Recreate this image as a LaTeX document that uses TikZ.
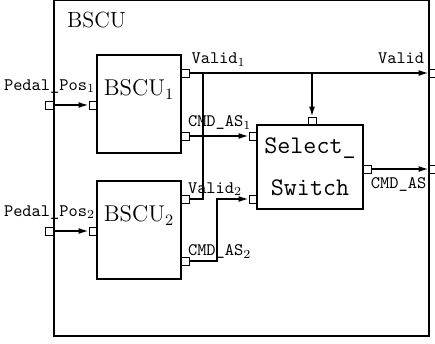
\documentclass[tikz,border=0pt]{standalone}
\usepackage{tikz}
\usetikzlibrary{arrows.meta,positioning}

\begin{document}
\begin{tikzpicture}[>={Latex[length=2mm,width=1.2mm]},
	block/.style={draw, line width=1.4pt, minimum width=1.68cm, minimum height=1.96cm, inner sep=0pt},
	blklbl/.style={font=\fontsize{13}{15}\selectfont, inner sep=1pt},
	port/.style={draw, line width=0.5pt, minimum size=0.16cm, inner sep=0pt},
	sig/.style={font=\fontsize{10}{12}\selectfont\ttfamily, inner sep=1pt},
	wire/.style={line width=0.9pt}]
	\useasboundingbox (0,0) rectangle (8.70,6.86);
	% enclosing component
	\node[draw, line width=1.1pt, minimum width=7.5cm, minimum height=6.72cm, inner sep=0pt] (bscu) at (4.83,3.50) {};
	\node[font=\fontsize{12.5}{15}\selectfont, inner sep=1pt, below right=0.22cm and 0.24cm of bscu.north west] {BSCU};
	% sub-blocks
	\node[block] (bscu1) at (2.78,4.78) {};
	\node[blklbl, below=0.48cm of bscu1.north] {BSCU$_1$};
	\node[block] (bscu2) at (2.78,2.26) {};
	\node[blklbl, below=0.48cm of bscu2.north] {BSCU$_2$};
	\node[block, minimum width=2.12cm, minimum height=1.68cm, align=center, font=\fontsize{14.4}{24}\selectfont\ttfamily] (sel) at (6.20,3.52) {Select\_\\Switch};
	% ports
	\node[port] (pos1) at (0.99,4.76) {};
	\node[port] (pos2) at (0.99,2.24) {};
	\node[port] (b1in) at (1.86,4.76) {};
	\node[port] (b1v) at (3.70,5.40) {};
	\node[port] (b1c) at (3.70,4.14) {};
	\node[port] (b2in) at (1.86,2.24) {};
	\node[port] (b2v) at (3.70,2.88) {};
	\node[port] (b2c) at (3.70,1.64) {};
	\node[port] (s1) at (5.06,4.14) {};
	\node[port] (s2) at (5.06,2.88) {};
	\node[port] (stop) at (6.24,4.44) {};
	\node[port] (sout) at (7.34,3.48) {};
	\node[port] (valid) at (8.66,5.40) {};
	\node[port] (cmd) at (8.66,3.48) {};
	% signals
	\coordinate (vtap) at (stop |- b1v);
	\coordinate (vjoin) at (4.06,5.40);
	\coordinate (cbend) at (4.34,2.88);
	\draw[wire, ->] (pos1) -- (b1in);
	\draw[wire, ->] (pos2) -- (b2in);
	\draw[wire, ->] (b1v) -- (valid);
	\draw[wire, ->] (vtap) -- (stop);
	\draw[wire] (b2v) -| (vjoin);
	\draw[wire, ->] (b1c) -- (s1);
	\draw[wire, ->] (b2c) -| (cbend) -- (s2);
	\draw[wire, ->] (sout) -- (cmd);
	% signal names
	\node[sig, above=3pt of pos1] {Pedal\_Pos$_1$};
	\node[sig, above=3pt of pos2] {Pedal\_Pos$_2$};
	\node[sig, above right=0pt of b1v] {Valid$_1$};
	\node[sig, above right=0pt and -2pt of b1c] {CMD\_AS$_1$};
	\node[sig, above right=-2pt and -2pt of b2v] {Valid$_2$};
	\node[sig, above right=-2.5pt and -2pt of b2c] {CMD\_AS$_2$};
	\node[sig, above left=1.5pt and 1.3pt of valid] {Valid};
	\node[sig, below right=1.3pt and -1.5pt of sout] {CMD\_AS};
\end{tikzpicture}
\end{document}
